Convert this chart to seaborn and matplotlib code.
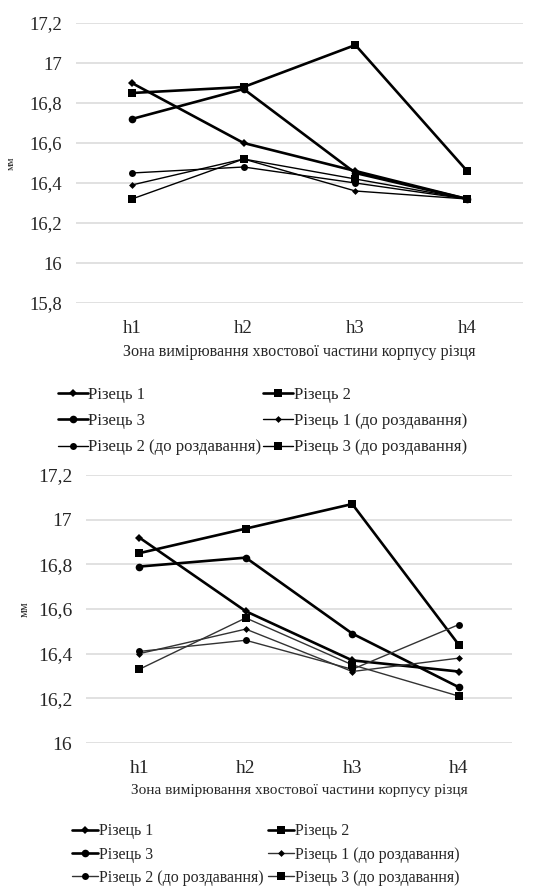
import matplotlib
matplotlib.use('Agg')
import matplotlib.pyplot as plt
from matplotlib.ticker import FuncFormatter, MultipleLocator
import seaborn as sns

sns.set_style("white")
plt.rcParams['font.family'] = ['Liberation Serif', 'DejaVu Serif']

zones = ['h1', 'h2', 'h3', 'h4']
labels = ['Різець 1', 'Різець 2', 'Різець 3',
          'Різець 1 (до роздавання)', 'Різець 2 (до роздавання)', 'Різець 3 (до роздавання)']

# верхній графік
r1_top = [16.90, 16.60, 16.46, 16.32]
r2_top = [16.85, 16.88, 17.09, 16.46]
r3_top = [16.72, 16.87, 16.45, 16.32]
r1_before_top = [16.39, 16.52, 16.36, 16.32]
r2_before_top = [16.45, 16.48, 16.40, 16.32]
r3_before_top = [16.32, 16.52, 16.42, 16.32]

# нижній графік
r1_bot = [16.92, 16.59, 16.37, 16.32]
r2_bot = [16.85, 16.96, 17.07, 16.44]
r3_bot = [16.79, 16.83, 16.49, 16.25]
r1_before_bot = [16.40, 16.51, 16.32, 16.38]
r2_before_bot = [16.41, 16.46, 16.33, 16.53]
r3_before_bot = [16.33, 16.56, 16.35, 16.21]

markers = ['D', 's', 'o', 'D', 'o', 's']
msizes = [4, 5.5, 5.5, 3.5, 5, 5.5]
widths = [1.9, 1.9, 1.9, 1.0, 1.0, 1.0]

W, H = 554, 889
fig = plt.figure(figsize=(W / 100, H / 100), dpi=100)


def fmt(v, pos):
    s = f'{v:.1f}'
    if s.endswith('.0'):
        s = s[:-2]
    return s.replace('.', ',')


def draw(ax, series, ylim, thin_color, tick_fs, xlab_fs, ylab_fs):
    for vals, lab, m, ms, lw in zip(series, labels, markers, msizes, widths):
        col = 'black' if lw > 1.5 else thin_color
        sns.lineplot(x=zones, y=vals, ax=ax, color=col, marker=m, markersize=ms,
                     linewidth=lw, markeredgewidth=0, markerfacecolor='black', label=lab)
    ax.get_legend().remove()
    ax.set_xlim(-0.5, 3.5)
    ax.set_ylim(*ylim)
    ax.yaxis.set_major_locator(MultipleLocator(0.2))
    ax.yaxis.set_major_formatter(FuncFormatter(fmt))
    ax.grid(axis='y', color='#d9d9d9', linewidth=1.1)
    ax.set_axisbelow(True)
    sns.despine(ax=ax, left=True, bottom=True)
    ax.tick_params(axis='y', length=0, pad=10, labelsize=tick_fs)
    ax.tick_params(axis='x', length=0, pad=12, labelsize=tick_fs)
    ax.set_xlabel('Зона вимірювання хвостової частини корпусу різця', fontsize=xlab_fs, labelpad=5)
    ax.set_ylabel('мм', fontsize=ylab_fs)
    h, l = ax.get_legend_handles_labels()
    return h, l


ax1 = fig.add_axes([76 / W, (H - 303) / H, 447 / W, 280 / H])
h1, l1 = draw(ax1, [r1_top, r2_top, r3_top, r1_before_top, r2_before_top, r3_before_top],
              (15.8, 17.2), 'black', 13.5, 11.6, 7.5)
ax1.yaxis.set_label_coords(-0.135, 0.5)

ax2 = fig.add_axes([86 / W, (H - 743) / H, 426 / W, 268 / H])
h2, l2 = draw(ax2, [r1_bot, r2_bot, r3_bot, r1_before_bot, r2_before_bot, r3_before_bot],
              (16.0, 17.2), '#333333', 14, 11, 9)
ax2.yaxis.set_label_coords(-0.13, 0.5)

# порядок по рядках: 1, 2 / 3, 1до / 2до, 3до
order = [0, 2, 4, 1, 3, 5]
fig.legend([h1[i] for i in order], [l1[i] for i in order], ncol=2, frameon=False,
           loc='upper left', bbox_to_anchor=(51 / W, 1 - 380 / H), fontsize=12,
           handlelength=1.8, handletextpad=0.05, columnspacing=0.1, labelspacing=0.62,
           borderaxespad=0)
fig.legend([h2[i] for i in order], [l2[i] for i in order], ncol=2, frameon=False,
           loc='upper left', bbox_to_anchor=(66 / W, 1 - 817 / H), fontsize=11.5,
           handlelength=1.6, handletextpad=0.05, columnspacing=0.3, labelspacing=0.45,
           borderaxespad=0)

fig.savefig('out.png', dpi=100)
